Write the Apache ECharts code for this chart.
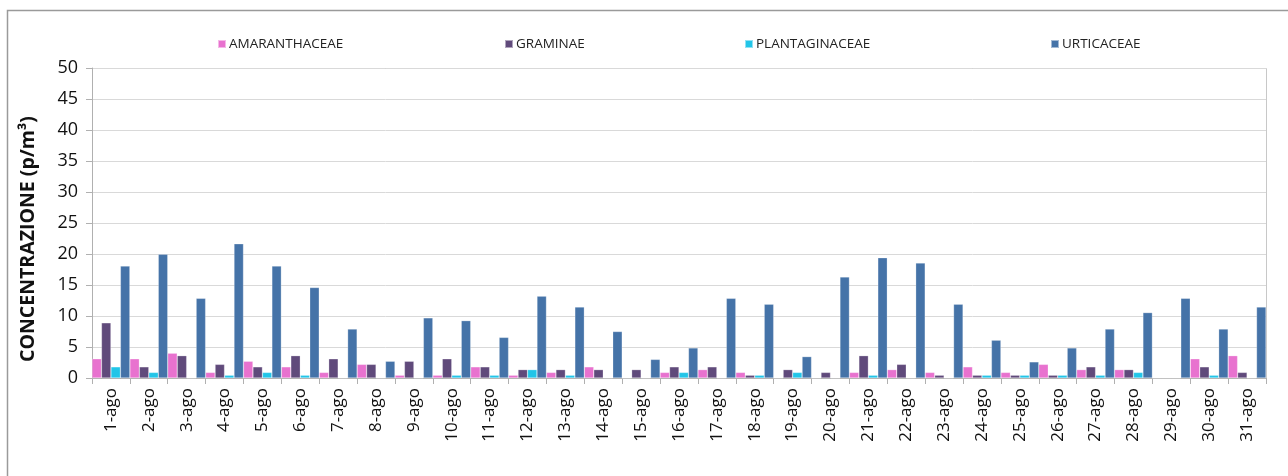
<!DOCTYPE html>
<html>
<head>
<meta charset="utf-8">
<script src="https://cdn.jsdelivr.net/npm/echarts@6/dist/echarts.min.js"></script>
<style>html,body{margin:0;padding:0;background:#fff}#c{width:1288px;height:476px}</style>
</head>
<body>
<div id="c"></div>
<script>
const categories = ['1-ago','2-ago','3-ago','4-ago','5-ago','6-ago','7-ago','8-ago','9-ago','10-ago','11-ago','12-ago','13-ago','14-ago','15-ago','16-ago','17-ago','18-ago','19-ago','20-ago','21-ago','22-ago','23-ago','24-ago','25-ago','26-ago','27-ago','28-ago','29-ago','30-ago','31-ago'];
const amaranthaceae = [3.1,3.1,4.0,0.9,2.7,1.8,0.9,2.2,0.45,0.45,1.8,0.45,0.9,1.8,0,0.9,1.35,0.9,0,0,0.9,1.35,0.9,1.8,0.9,2.2,1.35,1.35,0,3.1,3.6];
const graminae = [8.9,1.8,3.6,2.2,1.8,3.6,3.1,2.2,2.7,3.1,1.8,1.35,1.35,1.35,1.35,1.8,1.8,0.45,1.35,0.9,3.6,2.2,0.45,0.45,0.45,0.45,1.8,1.35,0,1.8,0.9];
const plantaginaceae = [1.8,0.9,0,0.45,0.9,0.45,0,0,0,0.45,0.45,1.35,0.45,0,0,0.9,0,0.45,0.9,0,0.45,0,0,0.45,0.45,0.45,0.45,0.9,0,0.45,0];
const urticaceae = [18.05,19.95,12.85,21.65,18.05,14.6,7.9,2.7,9.7,9.25,6.55,13.2,11.45,7.5,3.0,4.85,12.85,11.9,3.45,16.3,19.4,18.55,11.9,6.1,2.6,4.85,7.9,10.55,12.85,7.9,11.45];
const seriesNames = ['AMARANTHACEAE','GRAMINAE','PLANTAGINACEAE','URTICACEAE'];
const yTicks = [0,5,10,15,20,25,30,35,40,45,50];
const yTitle = 'CONCENTRAZIONE (p/m³)';

const colors = ['#E872CF','#604A7B','#22C5E8','#4573A8'];
const dataList = [amaranthaceae, graminae, plantaginaceae, urticaceae];
const legendLeft = [212, 499, 739, 1045];

const chart = echarts.init(document.getElementById('c'));
chart.setOption({
  animation: false,
  color: colors,
  graphic: [{
    type: 'rect', shape: {x: 7.5, y: 10.5, width: 1300, height: 500},
    style: {fill: 'none', stroke: '#9a9a9a', lineWidth: 1.5}, silent: true
  }, {
    type: 'rect', shape: {x: 92.5, y: 68.5, width: 1174, height: 310},
    style: {fill: 'none', stroke: '#c8c8c8', lineWidth: 1}, silent: true, z: 0
  }, {
    type: 'text', x: 28, y: 239, rotation: Math.PI / 2, silent: true,
    style: {text: yTitle, fontFamily: 'Open Sans', fontWeight: 'bold', fontSize: 19.5,
      fill: '#111', align: 'center', verticalAlign: 'middle'}
  }],
  legend: seriesNames.map((n, i) => ({
    data: [n], left: legendLeft[i], top: 32, itemWidth: 8, itemHeight: 8, icon: 'rect',
    textStyle: {fontFamily: 'Open Sans', fontSize: 13.5, color: '#222', padding: [0,0,0,-2]}
  })),
  grid: {left: 92, right: 22, top: 68, bottom: 98},
  xAxis: {
    type: 'category', data: categories, boundaryGap: true,
    axisLine: {lineStyle: {color: '#b0b0b0', width: 1}},
    axisTick: {show: true, length: 6, lineStyle: {color: '#b0b0b0'}},
    axisLabel: {rotate: 90, fontFamily: 'Open Sans', fontSize: 17, color: '#111', margin: 10, interval: 0}
  },
  yAxis: {
    type: 'value', min: 0, max: 50, interval: 5,
    axisLine: {show: true, lineStyle: {color: '#b0b0b0'}},
    axisTick: {show: true, length: 6, lineStyle: {color: '#b0b0b0'}},
    axisLabel: {fontFamily: 'Open Sans', fontSize: 18, color: '#111', margin: 14,
      formatter: v => yTicks.includes(v) ? String(v) : ''},
    splitLine: {lineStyle: {color: '#d9d9d9', width: 1}}
  },
  series: seriesNames.map((n, i) => ({
    name: n, type: 'bar', data: dataList[i],
    barGap: '0%', barCategoryGap: '0%',
    itemStyle: {color: colors[i], borderColor: 'rgba(255,255,255,0.5)', borderWidth: 0.5}
  }))
});
</script>
</body>
</html>
